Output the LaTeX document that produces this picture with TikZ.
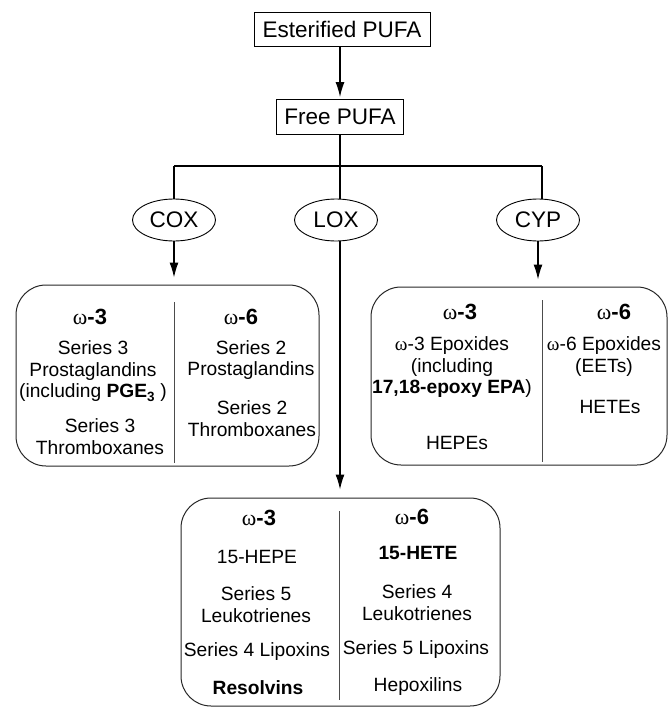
\documentclass[tikz,border=0pt]{standalone}
\usepackage{fontspec}
\setmainfont{Liberation Sans}
\newfontfamily\omegafont{Liberation Serif}
\usetikzlibrary{arrows.meta,positioning,shapes.geometric}
\newcommand{\omhead}[1]{{\omegafont ω}\textbf{-#1}}
\newcommand{\omtext}[1]{{\omegafont ω}-#1}

\tikzset{
  srcbox/.style={draw, line width=0.9pt, inner sep=0pt, font=\fontsize{22.5}{26}\selectfont},
  enzyme/.style={draw, ellipse, line width=0.9pt, inner sep=0pt, minimum width=83pt,
                 minimum height=42pt, font=\fontsize{22.5}{26}\selectfont},
  groupbox/.style={draw, line width=1pt, black!85, rounded corners=30pt, inner sep=0pt},
  divider/.style={line width=1pt, black!70},
  head/.style={inner sep=0pt, font=\fontsize{22}{25}\selectfont},
  entry/.style={inner sep=0pt, align=center, font=\fontsize{19.2}{21.5}\selectfont},
  flow/.style={->, line width=1.2pt},
  branch/.style={line width=1.1pt},
}

\begin{document}
\begin{tikzpicture}[x=1pt, y=-1pt, >={Latex[length=15pt,width=9pt]}]
    \useasboundingbox (0,0) rectangle (669,709);
    % --- PUFA pool ---
    \node[srcbox, minimum width=176pt, minimum height=34pt] (ester) at (342,29) {Esterified PUFA};
    \node[srcbox, minimum width=127pt, minimum height=35pt] (free) at (340,117) {Free PUFA};
    \draw[flow, shorten >=2pt] (free |- ester.south) -- (free.north);
    % --- branching to the enzymes ---
    \coordinate (barL) at (174,166);
    \coordinate (barR) at (542,166);
    \coordinate (barM) at (free |- barL);
    \node[enzyme] (cox) at (174,220) {COX};
    \node[enzyme] (lox) at (336,220) {LOX};
    \node[enzyme] (cyp) at (538,220) {CYP};
    \draw[branch] (free.south) -- (barM);
    \draw[branch] (barL) -- (barR);
    \draw[branch] (barL) -- (barL |- cox.north);
    \draw[branch] (barR) -- (barR |- cyp.north);
    \draw[branch] (barM) -- (barM |- lox.north);
    % --- product boxes ---
    \node[groupbox, minimum width=303pt, minimum height=181pt] (coxbox) at (167.5,375.5) {};
    \node[groupbox, minimum width=296pt, minimum height=178pt] (cypbox) at (519,376) {};
    \node[groupbox, minimum width=319pt, minimum height=208pt] (loxbox) at (340.5,602) {};
    \draw[divider] (174,302) -- (174,463);
    \draw[divider] (542,300) -- (542,462);
    \draw[divider] (339,511) -- (339,700);
    % --- enzyme arrows ---
    \draw[flow, shorten >=7pt] (cox.south) -- (cox.south |- coxbox.north);
    \draw[flow, shorten >=7pt] (cyp.south) -- (cyp.south |- cypbox.north);
    \draw[flow, shorten >=8pt] (lox.south -| barM) -- (barM |- loxbox.north);
    % --- COX products ---
    \node[head] (c3h) at (90,317) {\omhead{3}};
    \node[entry] (c3a) at (93,371.5) {Series 3\\Prostaglandins\\(including \textbf{PGE\textsubscript{3}} )};
    \node[entry] (c3b) at (100,436.5) {Series 3\\Thromboxanes};
    \node[head] (c6h) at (241,317) {\omhead{6}};
    \node[entry] (c6a) at (251,360) {Series 2\\Prostaglandins};
    \node[entry] (c6b) at (252,418.5) {Series 2\\Thromboxanes};
    % --- CYP products ---
    \node[head] (p3h) at (460,312) {\omhead{3}};
    \node[entry] (p3a) at (452,367.5) {\omtext{3} Epoxides\\(including\\\textbf{17,18-epoxy EPA})};
    \node[entry] (p3b) at (457,443) {HEPEs};
    \node[head] (p6h) at (614,312) {\omhead{6}};
    \node[entry] (p6a) at (604,356.5) {\omtext{6} Epoxides\\(EETs)};
    \node[entry] (p6b) at (610,407) {HETEs};
    % --- LOX products ---
    \node[head] (l3h) at (259,518) {\omhead{3}};
    \node[entry] (l3a) at (257,557) {15-HEPE};
    \node[entry] (l3b) at (256,604.5) {Series 5\\Leukotrienes};
    \node[entry] (l3c) at (257,652) {Series 4 Lipoxins};
    \node[entry] (l3d) at (258,688) {\textbf{Resolvins}};
    \node[head] (l6h) at (412,517) {\omhead{6}};
    \node[entry] (l6a) at (418,553) {\textbf{15-HETE}};
    \node[entry] (l6b) at (417,602.5) {Series 4\\Leukotrienes};
    \node[entry] (l6c) at (416,650) {Series 5 Lipoxins};
    \node[entry] (l6d) at (418,687) {Hepoxilins};
\end{tikzpicture}
\end{document}
